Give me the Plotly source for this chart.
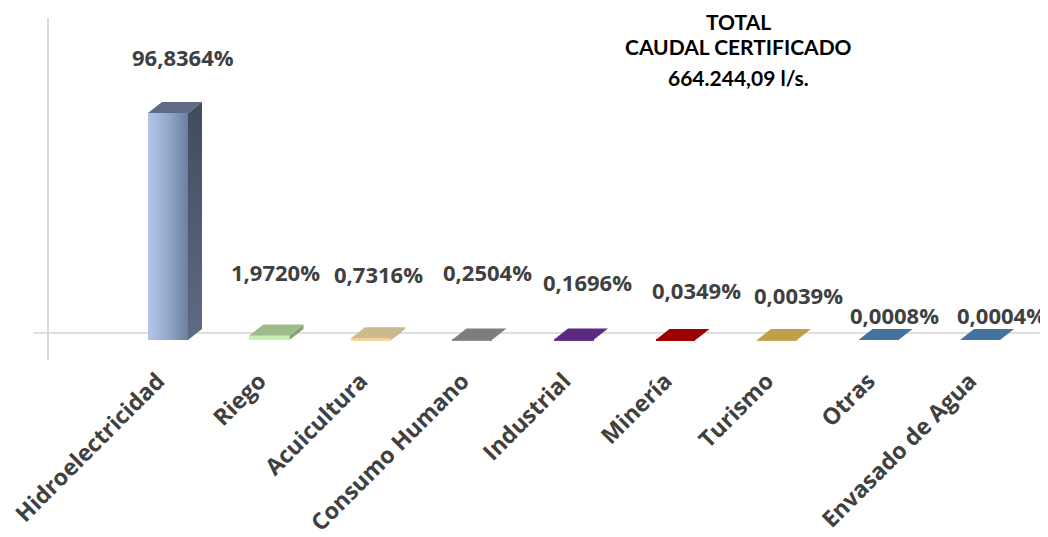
import plotly.graph_objects as go

# ---- data ----
categories = ["Hidroelectricidad", "Riego", "Acuicultura", "Consumo Humano", "Industrial",
              "Minería", "Turismo", "Otras", "Envasado de Agua"]
percentages = [96.8364, 1.9720, 0.7316, 0.2504, 0.1696, 0.0349, 0.0039, 0.0008, 0.0004]
title_lines = ["TOTAL", "CAUDAL CERTIFICADO", "664.244,09 l/s."]

# ---- style ----
front_colors = ["#9db2d6", "#c8efb3", "#f2d9a0", "#8c8c8c", "#6a3596", "#b00000", "#cfae57", "#5083b5", "#5083b5"]
top_colors = ["#5f6b84", "#9dbb8b", "#cdb98e", "#7d7d7d", "#5a2a80", "#9a0000", "#bf9f4a", "#44739f", "#44739f"]
side_colors = ["#4c576c", "#86a575", "#b5a278", "#6b6b6b", "#4a2069", "#800000", "#a88a3c", "#3a6189", "#3a6189"]
label_dx = [0.15, 0.064, 0.07, 0.15, 0.13, 0.21, 0.21, 0.16, 0.21]
label_y = [120.7, 29.0, 28.2, 29.0, 24.7, 21.3, 19.2, 10.7, 10.7]
BAR_W = 0.394
DX = 0.138   # depth offset (x units)
DY = 4.69    # depth offset (y units)

# page has an 8px body margin; figure is laid out to compensate
ML, MT, W, H = 40, 10, 1040, 529
PLOT_W = 992
PLOT_H = 342

x_idx = list(range(len(categories)))

fig = go.Figure()

# front faces
fig.add_trace(go.Bar(
    x=x_idx, y=percentages, width=BAR_W,
    marker=dict(color=front_colors, line=dict(width=0)),
    hoverinfo="skip", showlegend=False,
))

for i, v in enumerate(percentages):
    x0 = i - BAR_W / 2
    x1 = i + BAR_W / 2
    # side face
    fig.add_trace(go.Scatter(
        x=[x1, x1 + DX, x1 + DX, x1, x1], y=[0, DY, v + DY, v, 0],
        fill="toself", mode="lines", line=dict(width=0),
        fillcolor=side_colors[i], showlegend=False, hoverinfo="skip",
        fillgradient=dict(type="vertical", colorscale=[[0, "#5d6b84"], [1, "#414b5e"]]) if i == 0 else None,
    ))
    # top face
    fig.add_trace(go.Scatter(
        x=[x0, x1, x1 + DX, x0 + DX, x0], y=[v, v, v + DY, v + DY, v],
        fill="toself", mode="lines", line=dict(width=0),
        fillcolor=top_colors[i], showlegend=False, hoverinfo="skip",
    ))

# gradient overlay for the main bar front face
fig.add_trace(go.Scatter(
    x=[-BAR_W / 2, BAR_W / 2, BAR_W / 2, -BAR_W / 2, -BAR_W / 2],
    y=[0, 0, percentages[0], percentages[0], 0],
    fill="toself", mode="lines", line=dict(width=0),
    fillgradient=dict(type="horizontal", colorscale=[[0, "#b2c6e9"], [0.5, "#94a9cc"], [1, "#6b7f9f"]]),
    showlegend=False, hoverinfo="skip",
))

# data labels
for i, v in enumerate(percentages):
    txt = f"{v:.4f}".replace(".", ",") + "%"
    fig.add_annotation(x=i + label_dx[i], y=label_y[i], text=txt, showarrow=False,
                       font=dict(family="Open Sans", size=22, color="#404040", weight="bold"),
                       xanchor="center", yanchor="middle")

# title block
title_font = dict(family="Lato", size=21, color="#000000", weight="bold")
fig.add_annotation(xref="paper", yref="paper", x=(738 - 48) / PLOT_W, y=1 + MT / PLOT_H,
                   text=title_lines[0], showarrow=False, xanchor="center", yanchor="top",
                   borderpad=0, font=title_font)
for k in (1, 2):
    fig.add_annotation(xref="paper", yref="paper", x=(738 - 48) / PLOT_W, y=1 - (17 + 30 * k - 18) / PLOT_H,
                       text=title_lines[k], showarrow=False, xanchor="center", yanchor="middle",
                       font=title_font)

# floor line and vertical axis line
fig.add_shape(type="line", xref="paper", yref="y", x0=-0.015, x1=1.0, y0=3.0, y1=3.0,
              line=dict(color="#bfbfbf", width=1), layer="below")
fig.add_shape(type="line", xref="paper", yref="paper", x0=0, x1=0, y0=0, y1=1,
              line=dict(color="#d9d9d9", width=2), layer="below")

fig.update_layout(
    width=W, height=H,
    margin=dict(l=ML, r=W - ML - PLOT_W, t=MT, b=H - MT - PLOT_H, autoexpand=False),
    paper_bgcolor="white", plot_bgcolor="white",
    xaxis=dict(range=[-1.182, 8.591], tickvals=x_idx, ticktext=categories, tickangle=-45,
               showgrid=False, zeroline=False, showline=False, ticks="", automargin=False,
               ticklabeloverflow="allow", ticklabelstandoff=2, ticklabelshift=-10,
               tickfont=dict(family="Open Sans", size=23, color="#404040", weight="bold")),
    yaxis=dict(range=[-8.53, 137.4], showgrid=False, zeroline=False, showline=False, automargin=False,
               showticklabels=False, ticks=""),
    bargap=0,
)

fig.write_html("out.html")
